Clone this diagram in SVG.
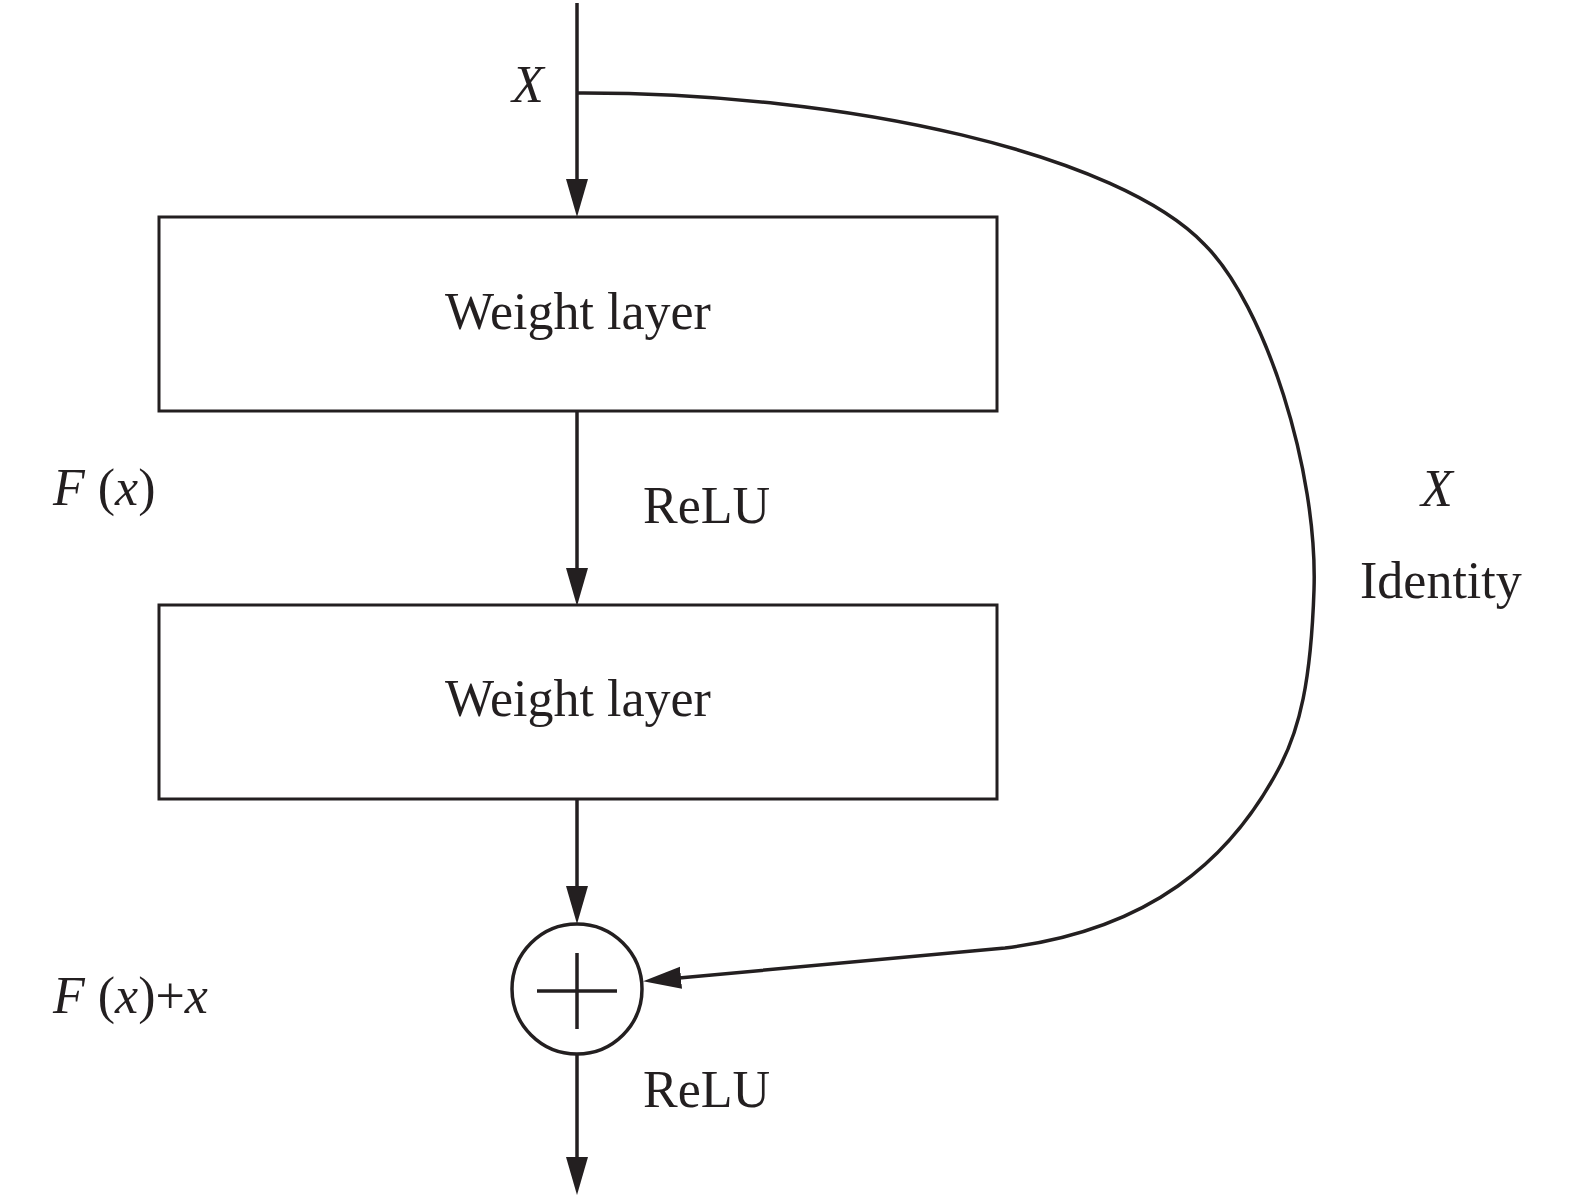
<svg xmlns="http://www.w3.org/2000/svg" width="1575" height="1197" viewBox="0 0 1575 1197">
<style>
.box{fill:#fff;stroke:#231f20;stroke-width:3}
.ln{fill:none;stroke:#231f20;stroke-width:3.5}
.t{font-family:"Liberation Serif","Times New Roman",serif;font-size:52px;fill:#231f20}
.i{font-style:italic}
</style>
<defs>
<marker id="ah" markerUnits="userSpaceOnUse" markerWidth="40" markerHeight="24" viewBox="0 0 40 24" refX="2" refY="12" orient="auto">
<path d="M0,1 L38,12 L0,23 z" fill="#231f20"/>
</marker>
</defs>
<g id="connectors">
<line class="ln" x1="577" y1="3" x2="577" y2="181" marker-end="url(#ah)"/>
<line class="ln" x1="577" y1="411" x2="577" y2="570" marker-end="url(#ah)"/>
<line class="ln" x1="577" y1="799" x2="577" y2="888" marker-end="url(#ah)"/>
<line class="ln" x1="577" y1="1055" x2="577" y2="1159" marker-end="url(#ah)"/>
<path class="ln" d="M577,93 C850,92 1120,155 1205,245 C1265,305 1318,470 1314,590 C1311,680 1300,730 1278,770 C1230,860 1150,930 1005,948 L679,978" marker-end="url(#ah)"/>
</g>
<g id="node-weight1">
<rect class="box" x="159" y="217" width="838" height="194"/>
<text class="t" x="578" y="329" text-anchor="middle">Weight layer</text>
</g>
<g id="node-weight2">
<rect class="box" x="159" y="605" width="838" height="194"/>
<text class="t" x="578" y="716" text-anchor="middle">Weight layer</text>
</g>
<g id="node-sum">
<circle class="ln" cx="577" cy="989" r="65"/>
<line class="ln" x1="537" y1="991" x2="617" y2="991"/>
<line class="ln" x1="577" y1="953" x2="577" y2="1029"/>
</g>
<g id="labels">
<text class="t i" x="512" y="102">X</text>
<text class="t" x="643" y="523">ReLU</text>
<text class="t" x="643" y="1107">ReLU</text>
<text class="t i" x="1421" y="506">X</text>
<text class="t" x="1360" y="598">Identity</text>
<text class="t" x="53" y="505"><tspan class="i">F</tspan> (<tspan class="i">x</tspan>)</text>
<text class="t" x="53" y="1013"><tspan class="i">F</tspan> (<tspan class="i">x</tspan>)+<tspan class="i">x</tspan></text>
</g>
</svg>
